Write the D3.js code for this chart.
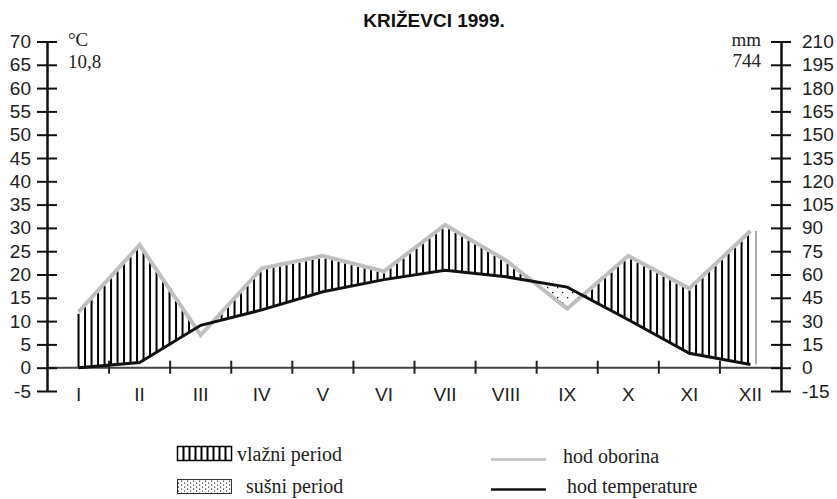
<!DOCTYPE html>
<html>
<head>
<meta charset="utf-8">
<script src="https://cdnjs.cloudflare.com/ajax/libs/d3/7.8.5/d3.min.js"></script>
<style>
  body { margin: 0; background: #fff; }
  svg { display: block; }
</style>
</head>
<body>
<svg id="chart" width="837" height="499"></svg>
<script>
// Climate diagram (Walter) - Križevci 1999
var months = ["I", "II", "III", "IV", "V", "VI", "VII", "VIII", "IX", "X", "XI", "XII"];
var temperature = [0.0, 1.1, 9.1, 12.4, 16.3, 18.9, 20.9, 19.5, 17.3, 10.3, 3.1, 0.7];   // °C
var precipitation = [36, 79, 21, 64, 72, 62, 92, 69, 38, 72, 51, 88];                  // mm
var tempTicks = d3.range(-5, 71, 5);
var precTicks = d3.range(-15, 211, 15);
var meanTemp = "10,8", sumPrec = "744";

var svg = d3.select("#chart");
var sans = "'Liberation Sans', Arial, sans-serif",
    serif = "'Liberation Serif', 'Times New Roman', serif";

var x = d3.scaleBand().domain(months).range([48, 781]);
var yT = d3.scaleLinear().domain([-5, 70]).range([391, 41.5]);
var yP = d3.scaleLinear().domain([-15, 210]).range([391, 41.5]);
var cx = function(m) { return x(m) + x.bandwidth() / 2; };

// sample both curves along x (linear between month centres)
function sampleAt(px) {
  var xs = months.map(cx);
  var i = Math.min(Math.max(d3.bisectRight(xs, px) - 1, 0), months.length - 2);
  var t = (px - xs[i]) / (xs[i + 1] - xs[i]);
  return {
    x: px,
    t: yT(temperature[i]) + t * (yT(temperature[i + 1]) - yT(temperature[i])),
    p: yP(precipitation[i]) + t * (yP(precipitation[i + 1]) - yP(precipitation[i]))
  };
}

var x0 = cx(months[0]), x1 = cx(months[months.length - 1]);

// patterns
var defs = svg.append("defs");
var dots = defs.append("pattern").attr("id", "dots").attr("patternUnits", "userSpaceOnUse")
  .attr("width", 10).attr("height", 10);
dots.append("rect").attr("x", 2).attr("y", 2).attr("width", 1.3).attr("height", 1.3).attr("fill", "#111");
dots.append("rect").attr("x", 7).attr("y", 7).attr("width", 1.3).attr("height", 1.3).attr("fill", "#111");

var dotsSmall = defs.append("pattern").attr("id", "dotsSmall").attr("patternUnits", "userSpaceOnUse")
  .attr("width", 6).attr("height", 4);
dotsSmall.append("rect").attr("x", 1).attr("y", 0.5).attr("width", 1.2).attr("height", 1.2).attr("fill", "#333");
dotsSmall.append("rect").attr("x", 4).attr("y", 2.5).attr("width", 1.2).attr("height", 1.2).attr("fill", "#333");

// wet period: vertical hatching
var hatch = [];
for (var px = x0; px <= x1 + 0.1; px += 6.5) {
  var s = sampleAt(px);
  if (s.p < s.t - 3) hatch.push(s);
}
svg.append("g").selectAll("line").data(hatch).enter().append("line")
  .attr("x1", function(d) { return d.x; }).attr("x2", function(d) { return d.x; })
  .attr("y1", function(d) { return d.t; }).attr("y2", function(d) { return d.p + 2; })
  .attr("stroke", "#000").attr("stroke-width", 2);

// dry period: dots between temperature (above) and precipitation
var dense = d3.range(x0, x1 + 0.5, 1).map(sampleAt);
svg.append("path")
  .attr("d", d3.area().x(function(d) { return d.x; })
    .y0(function(d) { return d.p; })
    .y1(function(d) { return Math.min(d.t, d.p); })(dense))
  .attr("fill", "url(#dots)");

// closing line at December
var last = sampleAt(x1);
svg.append("line")
  .attr("x1", x1 + 5.5).attr("x2", x1 + 5.5)
  .attr("y1", last.p).attr("y2", last.t)
  .attr("stroke", "#aaa").attr("stroke-width", 2);

// x axis
var y0 = yT(0);
svg.append("line").attr("x1", 47).attr("x2", 781).attr("y1", y0).attr("y2", y0)
  .attr("stroke", "#444").attr("stroke-width", 2);
svg.append("g").selectAll("line").data(months.slice(1)).enter().append("line")
  .attr("x1", function(d) { return x(d); }).attr("x2", function(d) { return x(d); })
  .attr("y1", y0 - 7).attr("y2", y0 + 6)
  .attr("stroke", "#222").attr("stroke-width", 2);
svg.append("g").selectAll("text").data(months).enter().append("text")
  .attr("x", cx).attr("y", 401)
  .attr("text-anchor", "middle")
  .attr("font-family", sans).attr("font-size", 19).attr("fill", "#222")
  .text(function(d) { return d; });

// lines
var precLine = d3.line().x(function(d, i) { return cx(months[i]); }).y(function(d) { return yP(d); });
var tempLine = d3.line().x(function(d, i) { return cx(months[i]); }).y(function(d) { return yT(d); });
svg.append("path").attr("d", precLine(precipitation))
  .attr("fill", "none").attr("stroke", "#bfbfbf").attr("stroke-width", 4).attr("stroke-linejoin", "miter");
svg.append("path").attr("d", tempLine(temperature))
  .attr("fill", "none").attr("stroke", "#111").attr("stroke-width", 3);

// y axes (plain hyphen for negatives, ticks crossing the axis)
function styleAxis(g, labelX, anchor) {
  g.select(".domain").attr("stroke", "#111").attr("stroke-width", 2.5);
  g.selectAll(".tick line").attr("x1", -10).attr("x2", 10).attr("stroke", "#111").attr("stroke-width", 2);
  g.selectAll(".tick text").attr("x", labelX).attr("text-anchor", anchor)
    .attr("font-family", sans).attr("font-size", 19).attr("fill", "#222");
}
var left = svg.append("g").attr("transform", "translate(47,0)")
  .call(d3.axisLeft(yT).tickValues(tempTicks).tickFormat(String).tickSizeOuter(0).tickSize(0).tickPadding(0));
styleAxis(left, -16, "end");
var right = svg.append("g").attr("transform", "translate(781,0)")
  .call(d3.axisRight(yP).tickValues(precTicks).tickFormat(String).tickSizeOuter(0).tickSize(0).tickPadding(0));
styleAxis(right, 21, "start");

// title & units
svg.append("text").attr("x", 434).attr("y", 27).attr("text-anchor", "middle")
  .attr("font-family", sans).attr("font-size", 19).attr("font-weight", "bold").attr("fill", "#111")
  .text("KRIŽEVCI 1999.");
svg.append("text").attr("x", 68).attr("y", 46).attr("font-family", serif).attr("font-size", 19).attr("fill", "#222").text("°C");
svg.append("text").attr("x", 68).attr("y", 68).attr("font-family", serif).attr("font-size", 19).attr("fill", "#222").text(meanTemp);
svg.append("text").attr("x", 761).attr("y", 46).attr("text-anchor", "end").attr("font-family", serif).attr("font-size", 19).attr("fill", "#222").text("mm");
svg.append("text").attr("x", 761).attr("y", 67).attr("text-anchor", "end").attr("font-family", serif).attr("font-size", 19).attr("fill", "#222").text(sumPrec);

// legend
var lg = svg.append("g");
lg.append("rect").attr("x", 177.5).attr("y", 446.5).attr("width", 54).attr("height", 14)
  .attr("fill", "#fff").attr("stroke", "#000").attr("stroke-width", 1.5);
lg.selectAll("line.h").data(d3.range(183.5, 231, 6)).enter().append("line")
  .attr("x1", function(d) { return d; }).attr("x2", function(d) { return d; })
  .attr("y1", 446.5).attr("y2", 460.5).attr("stroke", "#000").attr("stroke-width", 2);
lg.append("rect").attr("x", 177.5).attr("y", 479.5).attr("width", 54).attr("height", 14)
  .attr("fill", "url(#dotsSmall)").attr("stroke", "#333").attr("stroke-width", 1);
lg.append("text").attr("x", 237).attr("y", 461).attr("font-family", serif).attr("font-size", 20).attr("fill", "#222").text("vlažni period");
lg.append("text").attr("x", 246).attr("y", 493).attr("font-family", serif).attr("font-size", 20).attr("fill", "#222").text("sušni period");
lg.append("line").attr("x1", 491).attr("x2", 546).attr("y1", 459.5).attr("y2", 459.5).attr("stroke", "#bfbfbf").attr("stroke-width", 2.5);
lg.append("line").attr("x1", 491).attr("x2", 546).attr("y1", 489.5).attr("y2", 489.5).attr("stroke", "#111").attr("stroke-width", 2.5);
lg.append("text").attr("x", 563).attr("y", 463).attr("font-family", serif).attr("font-size", 20).attr("fill", "#222").text("hod oborina");
lg.append("text").attr("x", 567).attr("y", 493).attr("font-family", serif).attr("font-size", 20).attr("fill", "#222").text("hod temperature");
</script>
</body>
</html>
